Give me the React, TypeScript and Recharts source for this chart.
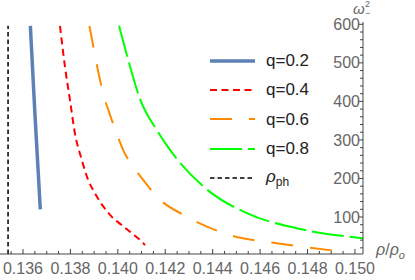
import React from 'react';
import { LineChart, Line, XAxis, YAxis } from 'recharts';

// values (rho/rho_o, omega_-^2)
const q02Rho = [0.13631, 0.13651, 0.13673];
const q02W = [596, 360, 120];

const q04Rho = [0.13756, 0.13777, 0.13798, 0.13819, 0.13848, 0.13875, 0.13904, 0.13939, 0.13974, 0.14016, 0.14059, 0.14106, 0.14115];
const q04W = [596, 490, 404, 317, 248, 196, 161, 127, 101, 79, 58, 33, 27];

const q06Rho = [0.1388, 0.13894, 0.13925, 0.13946, 0.13967, 0.13995, 0.14026, 0.14065, 0.14112, 0.14164, 0.14291, 0.14473, 0.1467, 0.14951];
const q06W = [596, 551, 455, 404, 365, 317, 269, 231, 192, 153, 101, 53, 32, 10];

const q08Rho = [0.14005, 0.14044, 0.14095, 0.14164, 0.1422, 0.14361, 0.14544, 0.14754, 0.15034];
const q08W = [596, 507, 404, 326, 274, 179, 110, 71, 45];

const phRho = [0.13537, 0.13537];
const phW = [4, 596];

const xMajorTicks = [0.136, 0.138, 0.14, 0.142, 0.144, 0.146, 0.148, 0.15];
const yMajorTicks = [100, 200, 300, 400, 500, 600];

const xTicks: number[] = [];
for (let i = 0; i <= 29; i++) xTicks.push(Math.round((0.1355 + i * 0.0005) * 1e5) / 1e5);
const yTicks: number[] = [];
for (let v = 20; v <= 600; v += 20) yTicks.push(v);

const pts = (xs: number[], ys: number[]) => xs.map((x, i) => ({ x, y: ys[i] }));

const series = [
  { key: 'q02', data: pts(q02Rho, q02W), stroke: '#5e81b5', width: 3.5, dash: undefined as string | undefined },
  { key: 'q04', data: pts(q04Rho, q04W), stroke: '#ff0000', width: 2, dash: '7 4.5' },
  { key: 'q06', data: pts(q06Rho, q06W), stroke: '#ff8c00', width: 2, dash: '22 17' },
  { key: 'q08', data: pts(q08Rho, q08W), stroke: '#00ff00', width: 2, dash: '32 6' },
  { key: 'ph', data: pts(phRho, phW), stroke: '#000000', width: 1.5, dash: '4.5 3' },
];

const font = '"Liberation Sans", Arial, sans-serif';
const axisColor = '#444';
const labelColor = '#666';

const XTick = (props: any) => {
  const { x, y, payload } = props;
  const major = xMajorTicks.some(t => Math.abs(t - payload.value) < 1e-7);
  return (
    <g>
      <line x1={x} y1={y} x2={x} y2={y - (major ? 5 : 3)} stroke={axisColor} />
      {major && (
        <text x={x} y={y + 20} textAnchor="middle" fill={labelColor} fontSize={16} fontFamily={font}>
          {payload.value.toFixed(3)}
        </text>
      )}
    </g>
  );
};

const YTick = (props: any) => {
  const { x, y, payload } = props;
  const major = yMajorTicks.includes(payload.value);
  return (
    <g>
      <line x1={x} y1={y} x2={x - (major ? 5 : 3)} y2={y} stroke={axisColor} />
      {major && (
        <text x={x - 3} y={y} dy="0.35em" textAnchor="end" fill={labelColor} fontSize={16} fontFamily={font}>
          {payload.value}
        </text>
      )}
    </g>
  );
};

const legendLabels: React.ReactNode[] = [
  'q=0.2',
  'q=0.4',
  'q=0.6',
  'q=0.8',
  <span><i>ρ</i><sub style={{ fontSize: 12 }}>ph</sub></span>,
];

export default function App() {
  return (
    <div style={{ position: 'absolute', left: 0, top: 0, width: 415, height: 280, fontFamily: font, background: '#fff' }}>
      <LineChart width={415} height={280} margin={{ top: 22, right: 0, bottom: 0, left: 0 }}>
        <XAxis
          type="number"
          dataKey="x"
          domain={[0.13503, 0.15034]}
          allowDataOverflow
          ticks={xTicks}
          interval={0}
          tickSize={0}
          tickMargin={0}
          tick={<XTick />}
          height={26}
          axisLine={{ stroke: axisColor }}
        />
        <YAxis
          type="number"
          dataKey="y"
          orientation="right"
          domain={[4, 606]}
          allowDataOverflow
          ticks={yTicks}
          interval={0}
          tickSize={0}
          tickMargin={0}
          tick={<YTick />}
          width={52}
          axisLine={{ stroke: axisColor }}
        />
        {series.map(s => (
          <Line
            key={s.key}
            data={s.data}
            dataKey="y"
            type="monotone"
            stroke={s.stroke}
            strokeWidth={s.width}
            strokeDasharray={s.dash}
            dot={false}
            isAnimationActive={false}
          />
        ))}
      </LineChart>

      <div style={{ position: 'absolute', left: 353, top: 0, width: 24, height: 20, color: labelColor, lineHeight: 1 }}>
        <span style={{ position: 'absolute', left: 0, top: 1, fontSize: 15, fontStyle: 'italic' }}>ω</span>
        <span style={{ position: 'absolute', left: 12, top: 0, fontSize: 9 }}>2</span>
        <span style={{ position: 'absolute', left: 12, top: 9, fontSize: 9 }}>−</span>
      </div>
      <div style={{ position: 'absolute', left: 376, top: 242, color: labelColor, fontSize: 16, lineHeight: 1, whiteSpace: 'nowrap' }}>
        <i>ρ</i>/<i>ρ</i><sub style={{ fontSize: 11, fontStyle: 'italic' }}>o</sub>
      </div>

      <div style={{ position: 'absolute', left: 208, top: 46 }}>
        {series.map((s, i) => (
          <div key={s.key} style={{ display: 'flex', alignItems: 'center', height: 29.3 }}>
            <svg width={50} height={10}>
              <line x1={2} y1={5} x2={47} y2={5} stroke={s.stroke} strokeWidth={s.width} strokeDasharray={s.dash} />
            </svg>
            <span style={{ marginLeft: 8, fontSize: 17, color: '#222', lineHeight: 1 }}>{legendLabels[i]}</span>
          </div>
        ))}
      </div>
    </div>
  );
}
